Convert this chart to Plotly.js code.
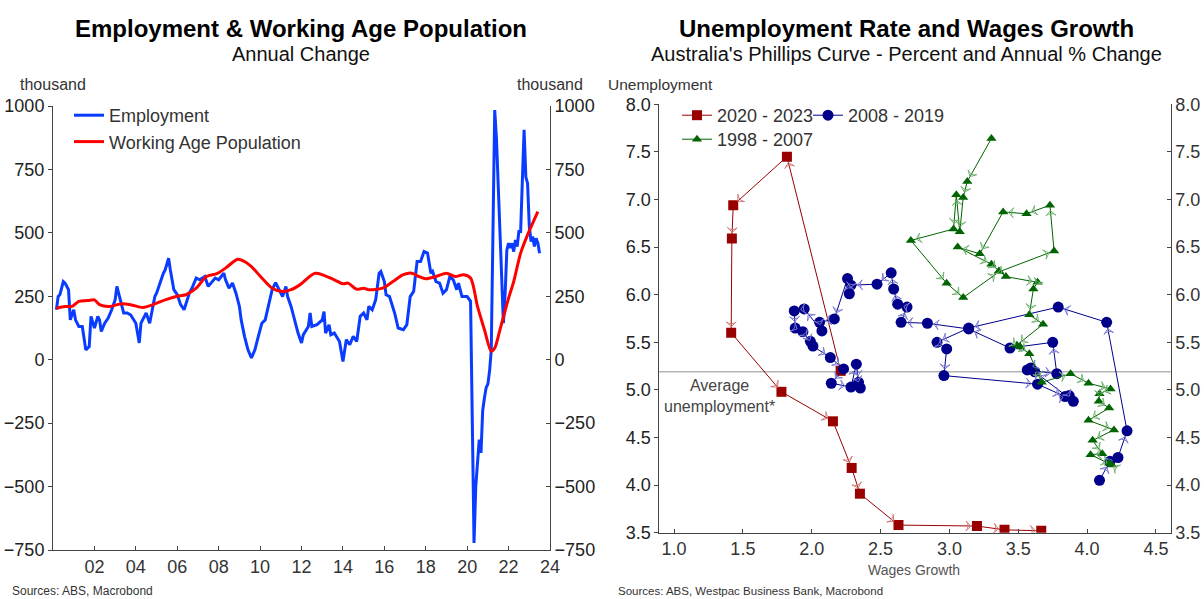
<!DOCTYPE html>
<html>
<head>
<meta charset="utf-8">
<script src="https://cdn.plot.ly/plotly-3.0.1.min.js"></script>
<style>
  html, body { margin: 0; padding: 0; background: #fff; }
  #chart { width: 1204px; height: 599px; }
</style>
</head>
<body>
<div id="chart"></div>
<script>
// ---------- Left chart: Employment & Working Age Population (annual change, thousand) ----------
const empDates = ['2000-03','2000-04','2000-05','2000-07','2000-08','2000-10','2000-11','2001-01','2001-02','2001-04','2001-06','2001-08','2001-10','2001-11',
  '2002-01','2002-03','2002-04','2002-05','2002-07','2002-09','2002-11','2003-01','2003-02','2003-03','2003-04','2003-06','2003-08','2003-10',
  '2004-01','2004-03','2004-04','2004-05','2004-07','2004-09','2004-10','2004-12','2005-01','2005-03','2005-05','2005-06','2005-08','2005-09','2005-11',
  '2006-01','2006-03','2006-05','2006-07','2006-08','2006-10','2006-12','2007-02','2007-05','2007-07','2007-09','2007-11',
  '2008-01','2008-04','2008-05','2008-07','2008-09','2008-11','2009-01','2009-02','2009-04','2009-06','2009-08','2009-10','2009-12',
  '2010-02','2010-04','2010-06','2010-08','2010-10','2010-12','2011-02','2011-04','2011-05','2011-07','2011-09','2011-11',
  '2012-01','2012-02','2012-05','2012-06','2012-07','2012-10','2013-01','2013-02','2013-03','2013-05','2013-06','2013-08','2013-11',
  '2014-01','2014-03','2014-05','2014-07','2014-09','2014-11','2015-01','2015-03','2015-04','2015-06','2015-08','2015-10','2015-11',
  '2016-01','2016-02','2016-04','2016-06','2016-07','2016-09','2016-12','2017-02','2017-04','2017-06','2017-08','2017-10','2017-12',
  '2018-02','2018-04','2018-05','2018-07','2018-09','2018-11','2019-01','2019-03','2019-05','2019-07','2019-08','2019-10',
  '2020-01','2020-02','2020-03','2020-04','2020-05','2020-06','2020-08','2020-09','2020-10','2020-11','2020-12',
  '2021-01','2021-02','2021-03','2021-04','2021-05','2021-06','2021-07','2021-08','2021-09','2021-10','2021-11','2021-12',
  '2022-01','2022-02','2022-03','2022-04','2022-05','2022-06','2022-07','2022-08','2022-09','2022-10','2022-11','2022-12',
  '2023-01','2023-02','2023-03','2023-04','2023-05','2023-06','2023-07'];
const empVals = [197,249,256,308,302,276,157,197,157,131,131,39,52,171,
  125,171,157,111,144,164,197,236,289,262,236,184,184,177,
  144,66,144,157,184,144,184,249,262,302,341,354,400,354,276,
  256,217,197,236,262,289,322,315,328,289,308,322,
  315,341,315,282,302,262,210,157,92,39,7,39,92,
  144,157,223,276,304,276,249,289,249,210,157,105,
  66,98,131,184,131,138,157,190,105,138,98,105,72,
  -7,79,59,92,72,171,184,157,210,197,236,341,348,
  308,256,249,210,184,125,118,138,249,269,387,387,426,
  420,341,348,308,302,262,276,328,315,276,302,249,
  249,236,230,-250,-722,-499,-315,-367,-200,-150,-110,
  -95,-40,39,500,984,870,700,500,300,144,260,433,
  459,440,459,426,472,446,505,505,709,906,720,696,
  525,466,486,446,479,460,420];

const popDates = ['2000-03','2000-08','2000-12','2001-04','2001-09','2002-01','2002-04','2002-10','2003-04','2003-10','2004-05','2004-11',
  '2005-06','2006-02','2006-06','2006-12','2007-06','2007-12','2008-05','2008-12','2009-04','2009-08','2010-02','2010-08',
  '2011-02','2011-07','2011-12','2012-09','2013-08','2014-01','2014-04','2014-09','2015-01','2015-04','2015-12','2016-06',
  '2016-12','2017-05','2017-09','2018-01','2018-07','2019-01','2019-06','2019-11','2020-03','2020-07','2020-11','2021-03',
  '2021-05','2021-08','2022-01','2022-04','2022-08','2022-12','2023-06'];
const popVals = [203,210,210,230,233,236,217,210,220,217,206,217,
  236,252,256,282,328,339,361,396,387,367,322,282,
  269,276,295,341,315,299,302,278,282,276,282,308,
  335,341,328,319,328,341,328,335,322,210,118,33,
  46,118,243,308,420,492,584];

const yearTicks = ['2002','2004','2006','2008','2010','2012','2014','2016','2018','2020','2022','2024'];
const yearTickLabels = ['02','04','06','08','10','12','14','16','18','20','22','24'];
const leftTicks = [-750,-500,-250,0,250,500,750,1000];

// ---------- Right chart: Phillips curve (wages growth vs unemployment) ----------
const wages2020 = [2.21,1.82,1.43,1.42,1.415,1.78,2.154,2.29,2.35,2.63,3.20,3.40,3.667];
const unemp2020 = [5.20,7.45,6.94,6.59,5.60,4.98,4.67,4.18,3.91,3.58,3.57,3.53,3.52];

const wages2008 = [4.09,4.166,4.224,4.29,4.142,3.79,3.14,2.91,2.98,2.96,3.64,3.84,3.87,3.90,3.62,3.59,3.565,3.78,3.75,3.44,3.14,2.84,
  2.649,2.692,2.624,2.595,2.577,2.474,2.285,2.273,2.26,2.164,2.057,2.074,1.945,1.873,1.88,1.936,1.99,2.009,2.135,2.231,2.142,2.285,2.324,2.34,2.353];
const unemp2008 = [4.05,4.25,4.29,4.57,5.71,5.87,5.65,5.50,5.43,5.15,5.06,4.93,4.94,4.88,5.19,5.23,5.21,5.17,5.50,5.44,5.64,5.70,
  5.71,5.87,5.90,6.06,6.23,6.11,6.10,6.01,6.17,5.745,5.71,5.62,5.85,5.83,5.65,5.61,5.51,5.46,5.34,5.22,5.07,5.03,5.27,5.08,5.02];

const wages1998 = [3.305,3.13,3.10,3.075,3.05,3.03,2.72,2.98,3.10,3.36,3.76,3.73,3.56,3.39,3.22,3.06,3.305,3.36,3.41,3.64,3.61,3.58,3.68,
  3.49,3.515,3.58,3.67,3.88,4.01,4.17,4.09,4.085,4.16,4.01,4.195,4.04,4.11,4.025,4.18,4.16];
const unemp1998 = [7.64,7.19,7.02,6.66,7.05,6.69,6.57,6.12,5.97,6.24,6.46,6.94,6.85,6.87,6.43,6.50,6.32,6.25,6.19,6.13,6.06,5.79,5.69,
  5.47,5.45,5.38,5.08,5.17,5.07,5.01,4.96,4.88,4.81,4.68,4.58,4.47,4.33,4.32,4.21,4.23];

const avgUnemp = 5.19;
const wageTicks = [1.0,1.5,2.0,2.5,3.0,3.5,4.0,4.5];
const unempTicks = [3.5,4.0,4.5,5.0,5.5,6.0,6.5,7.0,7.5,8.0];

// ---------- Styling ----------
const FONT = 'Liberation Sans, Arial, sans-serif';
const AXC = '#444';
const TICKC = '#222';

function seriesTraces(xs, ys, name, color, arrowColor, symbol, size, legend) {
  const main = {
    type: 'scatter', mode: 'lines+markers', x: xs, y: ys, name: name,
    xaxis: 'x2', yaxis: 'y2', legend: legend,
    line: {color: color, width: 1},
    marker: {color: color, symbol: symbol, size: size}
  };
  const arrows = {
    type: 'scatter', mode: 'markers', x: xs, y: ys, showlegend: false, hoverinfo: 'skip',
    xaxis: 'x2', yaxis: 'y2',
    marker: {symbol: 'arrow-wide-open', angleref: 'previous', size: 7, standoff: size / 2 + 1,
             color: arrowColor, line: {color: arrowColor, width: 1},
             opacity: xs.map((v, i) => i === 0 ? 0 : 1)}
  };
  return [main, arrows];
}

const traces = [
  {type: 'scatter', mode: 'lines', x: empDates, y: empVals, name: 'Employment',
   xaxis: 'x', yaxis: 'y', legend: 'legend', line: {color: '#0a3cff', width: 3}},
  {type: 'scatter', mode: 'lines', x: popDates, y: popVals, name: 'Working Age Population',
   xaxis: 'x', yaxis: 'y', legend: 'legend', line: {color: '#ff0000', width: 3, shape: 'spline', smoothing: 0.8}},
  {type: 'scatter', mode: 'lines', x: [yearTicks[0]], y: [0], xaxis: 'x', yaxis: 'y3', showlegend: false, hoverinfo: 'skip',
   line: {color: 'rgba(0,0,0,0)'}},
  ...seriesTraces(wages2020, unemp2020, '2020 - 2023', '#990000', '#d47a7a', 'square', 10, 'legend2'),
  ...seriesTraces(wages2008, unemp2008, '2008 - 2019', '#00008b', '#7a7ad4', 'circle', 11, 'legend4'),
  ...seriesTraces(wages1998, unemp1998, '1998 - 2007', '#006400', '#6fb36f', 'triangle-up', 9, 'legend3'),
  {type: 'scatter', mode: 'lines', x: [wageTicks[0]], y: [avgUnemp], xaxis: 'x2', yaxis: 'y4', showlegend: false, hoverinfo: 'skip',
   line: {color: 'rgba(0,0,0,0)'}}
];

const W = 1204, H = 599;
const px = v => v / W;
const py = v => 1 - v / H;

const baseAxis = {
  showgrid: false, zeroline: false, showline: true, linecolor: AXC, linewidth: 1,
  tickcolor: AXC, ticklen: 4, tickwidth: 1,
  tickfont: {family: FONT, size: 18, color: TICKC}
};

const legFont = {family: FONT, size: 18, color: '#333'};

const layout = {
  width: W, height: H,
  margin: {l: 0, r: 0, t: 0, b: 0},
  paper_bgcolor: '#fff', plot_bgcolor: '#fff',
  font: {family: FONT, color: '#333'},
  showlegend: true,
  xaxis: Object.assign({}, baseAxis, {
    domain: [px(53), px(550)], anchor: 'y', type: 'date',
    range: ['2000-01-01', '2024-01-01'],
    tickmode: 'array', tickvals: yearTicks, ticktext: yearTickLabels, ticks: 'inside',
    tickfont: {family: FONT, size: 18, color: '#333'}
  }),
  yaxis: Object.assign({}, baseAxis, {
    domain: [py(550), py(106)], anchor: 'x', range: [-750, 1000],
    tickmode: 'array', tickvals: leftTicks, ticks: 'outside'
  }),
  yaxis3: Object.assign({}, baseAxis, {
    overlaying: 'y', side: 'right', anchor: 'x', range: [-750, 1000],
    tickmode: 'array', tickvals: leftTicks, ticks: 'inside'
  }),
  xaxis2: Object.assign({}, baseAxis, {
    domain: [px(659.3), px(1170.7)], anchor: 'y2', range: [0.893, 4.607],
    tickmode: 'array', tickvals: wageTicks, tickformat: '.1f', ticks: 'inside',
    tickfont: {family: FONT, size: 18, color: '#333'}
  }),
  yaxis2: Object.assign({}, baseAxis, {
    domain: [py(532.7), py(104.3)], anchor: 'x2', range: [3.5, 8.0],
    tickmode: 'array', tickvals: unempTicks, tickformat: '.1f', ticks: 'outside'
  }),
  yaxis4: Object.assign({}, baseAxis, {
    overlaying: 'y2', side: 'right', anchor: 'x2', range: [3.5, 8.0],
    tickmode: 'array', tickvals: unempTicks, tickformat: '.1f', ticks: 'inside',
    tickfont: {family: FONT, size: 18, color: '#333'}
  }),
  legend: {x: px(69), y: py(97), xanchor: 'left', yanchor: 'top', bgcolor: 'rgba(0,0,0,0)',
           font: legFont, tracegroupgap: 0, itemwidth: 30},
  legend2: {orientation: 'h', x: px(677), y: py(97), xanchor: 'left', yanchor: 'top', bgcolor: 'rgba(0,0,0,0)',
            font: legFont, itemwidth: 30},
  legend4: {orientation: 'h', x: px(808), y: py(97), xanchor: 'left', yanchor: 'top', bgcolor: 'rgba(0,0,0,0)',
            font: legFont, itemwidth: 30},
  legend3: {orientation: 'h', x: px(677), y: py(121), xanchor: 'left', yanchor: 'top', bgcolor: 'rgba(0,0,0,0)',
            font: legFont, itemwidth: 30},
  shapes: [
    {type: 'line', xref: 'x2 domain', yref: 'y2', x0: 0, x1: 1, y0: avgUnemp, y1: avgUnemp,
     line: {color: '#b4b4b4', width: 1.5}, layer: 'below'}
  ],
  annotations: [
    {text: '<b>Employment & Working Age Population</b>', x: px(301), y: py(28), xref: 'paper', yref: 'paper',
     showarrow: false, xanchor: 'center', yanchor: 'middle', font: {family: FONT, size: 24, color: '#000'}},
    {text: 'Annual Change', x: px(301), y: py(54), xref: 'paper', yref: 'paper',
     showarrow: false, xanchor: 'center', yanchor: 'middle', font: {family: FONT, size: 20, color: '#111'}},
    {text: '<b>Unemployment Rate and Wages Growth</b>', x: px(906), y: py(28), xref: 'paper', yref: 'paper',
     showarrow: false, xanchor: 'center', yanchor: 'middle', font: {family: FONT, size: 24, color: '#000'}},
    {text: "Australia's Phillips Curve - Percent and Annual % Change", x: px(906), y: py(54), xref: 'paper', yref: 'paper',
     showarrow: false, xanchor: 'center', yanchor: 'middle', font: {family: FONT, size: 20, color: '#111'}},
    {text: 'thousand', x: px(53), y: py(85), xref: 'paper', yref: 'paper',
     showarrow: false, xanchor: 'center', yanchor: 'middle', font: {family: FONT, size: 16, color: '#333'}},
    {text: 'thousand', x: px(550), y: py(85), xref: 'paper', yref: 'paper',
     showarrow: false, xanchor: 'center', yanchor: 'middle', font: {family: FONT, size: 16, color: '#333'}},
    {text: 'Unemployment', x: px(606), y: py(84), xref: 'paper', yref: 'paper',
     showarrow: false, xanchor: 'left', yanchor: 'middle', font: {family: FONT, size: 15.5, color: '#333'}},
    {text: 'Wages Growth', x: px(914), y: py(570), xref: 'paper', yref: 'paper',
     showarrow: false, xanchor: 'center', yanchor: 'middle', font: {family: FONT, size: 14, color: '#555'}},
    {text: 'Average<br>unemployment*', x: px(719), y: py(396), xref: 'paper', yref: 'paper',
     showarrow: false, xanchor: 'center', yanchor: 'middle', align: 'center', font: {family: FONT, size: 16, color: '#444'}},
    {text: 'Sources: ABS, Macrobond', x: px(10), y: py(591), xref: 'paper', yref: 'paper',
     showarrow: false, xanchor: 'left', yanchor: 'middle', font: {family: FONT, size: 12, color: '#333'}},
    {text: 'Sources: ABS, Westpac Business Bank, Macrobond', x: px(616), y: py(591), xref: 'paper', yref: 'paper',
     showarrow: false, xanchor: 'left', yanchor: 'middle', font: {family: FONT, size: 11.5, color: '#333'}}
  ]
};

Plotly.newPlot('chart', traces, layout, {displayModeBar: false, staticPlot: true});
</script>
</body>
</html>
